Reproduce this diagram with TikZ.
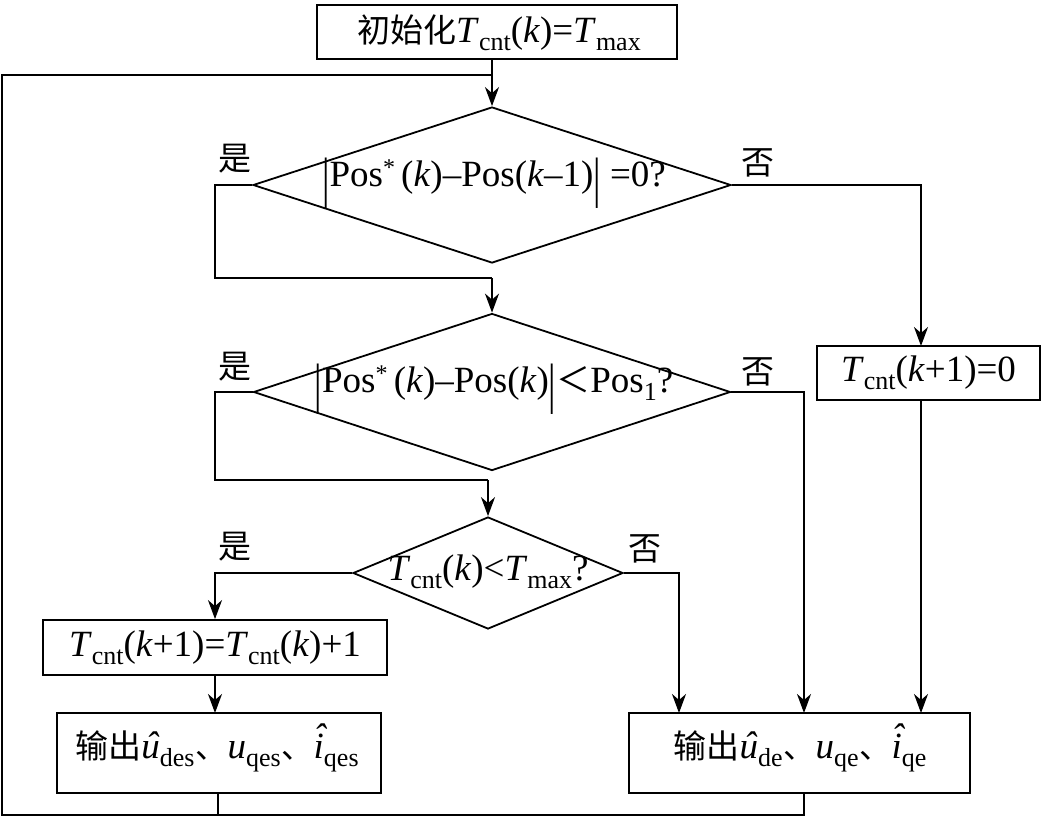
\documentclass[tikz,border=0pt]{standalone}
\usepackage{fontspec}
\setmainfont{Liberation Serif}
\newfontfamily\cjk{Noto Sans CJK SC}
\usetikzlibrary{shapes.geometric,arrows.meta}
\newcommand\tb{\raisebox{-0.26em}{\scalebox{1}[1.5]{|}}}
\newcommand\sbs[1]{\raisebox{-0.22em}{\fontsize{26}{30}\selectfont #1}}
\newcommand\sps[1]{\raisebox{0.3em}{\fontsize{24}{30}\selectfont #1}}
\newcommand\hatu{\ooalign{\textit{u}\cr\hidewidth\kern0.1em\raisebox{0.02em}{\textit{ˆ}}\hidewidth\cr}}
\newcommand\hati{\ooalign{\textit{i}\cr\hidewidth\kern0.08em\raisebox{0.22em}{\textit{ˆ}}\hidewidth\cr}}
\newcommand\Tc{\textit{T}\sbs{cnt}}
\newcommand\Tm{\textit{T}\sbs{max}}
\newcommand\kk{\textit{k}}
\newcommand\dun{\kern1pt{\cjk\fontsize{32}{36}\selectfont 、}}
\newcommand\cj[1]{{\cjk\fontsize{33}{40}\selectfont #1}}
\tikzset{
  box/.style={draw, rectangle, inner sep=0pt, line width=1.8pt},
  dia/.style={draw, diamond, inner sep=0pt, line width=1.8pt},
  lbl/.style={inner sep=0pt, font=\fontsize{37}{42}\selectfont},
  yn/.style={inner sep=0pt, font=\cjk\fontsize{33}{38}\selectfont},
  arr/.style={-{Stealth[length=19pt,width=14pt,inset=6pt]}, line width=1.8pt},
  ln/.style={line width=1.8pt}
}
\begin{document}
\begin{tikzpicture}[x=1pt,y=-1pt]
\useasboundingbox (0,0) rectangle (1042,823);
\fill[white] (0,0) rectangle (1042,823);
% nodes
\node[box, minimum width=360pt, minimum height=54pt] (init) at (497,32) {};
\node[lbl] at (499,33) {\cj{初始化}\Tc(\kk)=\Tm};
\node[dia, minimum width=478pt, minimum height=156pt] (d1) at (492,185) {};
\node[lbl] at (494,183) {\tb Pos\sps{*}\,(\kk)–Pos(\kk–1)\tb\ =0?};
\node[dia, minimum width=477pt, minimum height=157pt] (d2) at (492,392) {};
\node[lbl] at (494,389) {\tb Pos\sps{*}\,(\kk)–Pos(\kk)\tb{\cjk\fontsize{34}{40}\selectfont ＜}Pos\sbs{1}?};
\node[dia, minimum width=270pt, minimum height=112pt] (d3) at (488,573) {};
\node[lbl] at (488,572) {\Tc(\kk)<\Tm?};
\node[box, minimum width=223pt, minimum height=54pt] (b0) at (928.5,373) {};
\node[lbl] at (b0) {\Tc(\kk+1)=0};
\node[box, minimum width=344pt, minimum height=55pt] (b1) at (215,647.5) {};
\node[lbl] at (b1) {\Tc(\kk+1)=\Tc(\kk)+1};
\node[box, minimum width=324pt, minimum height=80pt] (oL) at (219,753) {};
\node[lbl] at (217,751) {\cj{输出}\hatu\sbs{des}\dun\textit{u}\sbs{qes}\dun\hati\sbs{qes}};
\node[box, minimum width=341pt, minimum height=80pt] (oR) at (799.5,753) {};
\node[lbl] at (800,751) {\cj{输出}\hatu\sbs{de}\dun\textit{u}\sbs{qe}\dun\hati\sbs{qe}};
% yes/no labels
\node[yn] (y1) at (235,159) {是};
\node[yn] (n1) at (758,163) {否};
\node[yn] (y2) at (235,367) {是};
\node[yn] (n2) at (758,372) {否};
\node[yn] (y3) at (235,547) {是};
\node[yn] (n3) at (645,549) {否};
% coordinates
\coordinate (j0) at (492,75);
\coordinate (lbR) at (804,815);
\coordinate (lbL) at (2,815);
\coordinate (ltL) at (2,75);
% connectors
\draw[arr] (init.south -| d1.north) -- (d1.north);
\draw[ln] (d1.west) -- (215,185) -- (215,278) -- (492,278);
\draw[arr] (492,278) -- (d2.north);
\draw[arr] (d1.east) -- (921,185) -- (921,346);
\draw[arr] (921,400) -- (921,713);
\draw[arr] (d2.east) -- (804,392) -- (804,713);
\draw[ln] (d2.west) -- (215,392) -- (215,480) -- (488,480);
\draw[arr] (488,480) -- (d3.north);
\draw[arr] (d3.east) -- (679,573) -- (679,713);
\draw[arr] (d3.west) -- (215,573) -- (b1.north);
\draw[arr] (b1.south) -- (215,713);
\draw[ln] (218,793) -- (218,815);
\draw[ln] (804,793) -- (lbR) -- (lbL) -- (ltL) -- (j0);
\end{tikzpicture}
\end{document}
